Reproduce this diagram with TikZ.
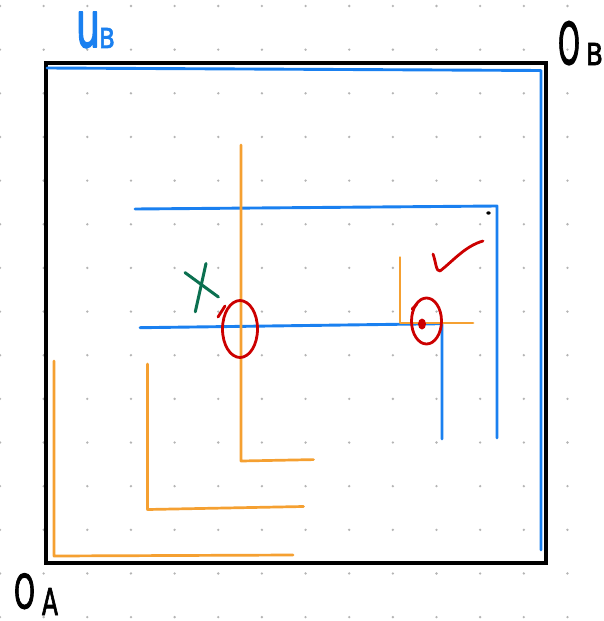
\documentclass[tikz,border=0pt]{standalone}
\usepackage{fontspec}
\setmainfont{Noto Sans}
\newfontfamily\handfont[FakeBold=2.5]{DejaVu Sans}
\usepackage{graphicx}
\definecolor{myblue}{HTML}{1A80F0}
\definecolor{myorange}{HTML}{F5A031}
\definecolor{myred}{HTML}{CC0000}
\definecolor{mygreen}{HTML}{0B7050}
\definecolor{dotgray}{HTML}{B4B4B4}
\begin{document}
\begin{tikzpicture}[x=1pt,y=-1pt, line cap=round, line join=round,
 frame/.style={draw=black,line width=3.2pt,line join=miter,line cap=rect},
 blueline/.style={draw=myblue,line width=2.9pt},
 orangeline/.style={draw=myorange,line width=2.7pt},
 redink/.style={draw=myred,line width=2.8pt},
 greenink/.style={draw=mygreen,line width=3pt},
 lbl/.style={inner sep=0pt, outer sep=0pt, anchor=south west, font=\handfont}]
\useasboundingbox (0,0) rectangle (604,621);
\fill[white] (0,0) rectangle (604,621);
\foreach \i in {0,...,13} \foreach \j in {0,...,14} \fill[dotgray] (43.65*\i, 6+43.65*\j) circle (1.3pt);
% frame
\draw[frame] (46,63) rectangle (546,563);
% blue L shapes
\coordinate (b1a) at (47,68); \coordinate (b1b) at (541,70.5); \coordinate (b1c) at (541,550);
\coordinate (b2a) at (135,209); \coordinate (b2b) at (497,206); \coordinate (b2c) at (497,438);
\coordinate (b3a) at (140,327.7); \coordinate (b3b) at (442,323.7); \coordinate (b3c) at (442,439);
\draw[blueline] (b1a) -- (b1b) -- (b1c);
\draw[blueline] (b2a) -- (b2b) -- (b2c);
\draw[blueline] (b3a) -- (b3b) -- (b3c);
% orange L shapes
\coordinate (o1a) at (54,361); \coordinate (o1b) at (54,556); \coordinate (o1c) at (293,555);
\coordinate (o2a) at (147.5,364); \coordinate (o2b) at (147.5,509.5); \coordinate (o2c) at (303.5,506.5);
\coordinate (o3a) at (241,145); \coordinate (o3b) at (241,461); \coordinate (o3c) at (313.5,459.6);
\coordinate (o4a) at (400,257.5); \coordinate (o4b) at (400,323); \coordinate (o4c) at (473,323);
\draw[orangeline] (o1a) -- (o1b) -- (o1c);
\draw[orangeline] (o2a) -- (o2b) -- (o2c);
\draw[orangeline] (o3a) -- (o3b) -- (o3c);
\draw[orangeline] (o4a) -- (o4b) -- (o4c);
% small black dot
\fill[black] (488.5,213) ellipse [x radius=2.2pt, y radius=1.7pt];
% red marks
\draw[redink] (240,329) ellipse [x radius=17.5pt, y radius=28.5pt];
\draw[redink] (218,317) -- (225,306);
\draw[redink] (426.5,321) ellipse [x radius=15pt, y radius=23pt];
\draw[redink] (412,309) -- (417,304);
\fill[myred] (422,324) ellipse [x radius=4pt, y radius=5.5pt];
\draw[redink] (433,254) .. controls (436,262) and (436,272) .. (440,271) .. controls (452,262) and (465,246) .. (483,241);
% green X
\draw[greenink] (185,272.6) -- (218.4,297);
\draw[greenink] (206,263.5) -- (195.3,311.8);
% labels
\node[lbl,text=myblue] (uB1) at (76,48) {\resizebox{24pt}{36pt}{u}};
\node[lbl,text=myblue] (uB2) at (99,48) {\resizebox{16pt}{20pt}{B}};
\node[lbl] (OB1) at (558,65) {\resizebox{22pt}{43pt}{O}};
\node[lbl] (OB2) at (586,65) {\resizebox{17pt}{22pt}{B}};
\node[lbl] (OA1) at (14,609) {\resizebox{21pt}{35pt}{O}};
\node[lbl] (OA2) at (42,615) {\resizebox{16pt}{27pt}{A}};
\end{tikzpicture}
\end{document}
